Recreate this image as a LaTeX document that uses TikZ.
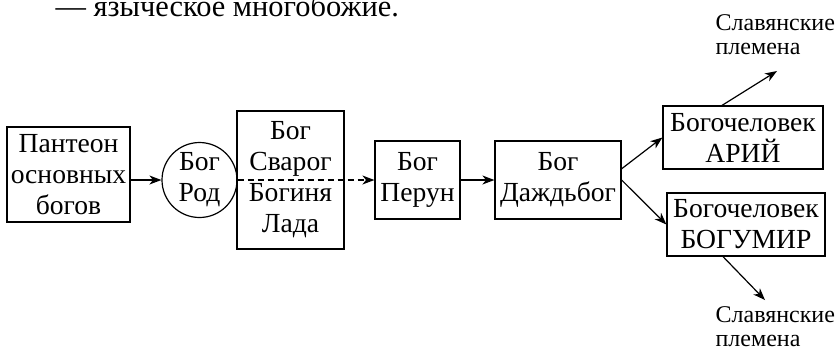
\documentclass[tikz,border=0pt]{standalone}
\usepackage{fontspec}
\setmainfont{Liberation Serif}
\usetikzlibrary{arrows.meta}

\begin{document}
\begin{tikzpicture}[x=0.5pt, y=-0.5pt, line width=0.6pt,
  box/.style={draw, rectangle, align=center, inner sep=0pt, font=\fontsize{13.8}{15.5}\selectfont},
  tribe/.style={align=left, inner sep=0pt, font=\fontsize{12}{12}\selectfont},
  arr/.style={-{Stealth[length=6pt,width=4.5pt,inset=1.8pt]}}]
\useasboundingbox (0,0) rectangle (835,350);

\node[anchor=base west, inner sep=0pt, font=\fontsize{15.2}{17}\selectfont] (intro) at (55,16) {— языческое многобожие.};

\node[box, minimum width=61.5pt, minimum height=47.5pt] (pantheon) at (68.5,174.5) {Пантеон\\основных\\богов};
\node[box, circle, minimum size=37.5pt] (rod) at (199.5,180) {Бог\\Род};
\node[box, minimum width=53.5pt, minimum height=69pt] (svarog) at (290.5,180) {Бог\\Сварог\\Богиня\\Лада};
\node[box, minimum width=42.5pt, minimum height=39pt] (perun) at (417.5,180) {Бог\\Перун};
\node[box, minimum width=63pt, minimum height=39pt] (dazhd) at (558,180) {Бог\\Даждьбог};
\node[box, minimum width=80pt, minimum height=31.5pt] (ariy) at (743,137.5) {Богочеловек\\АРИЙ};
\node[box, minimum width=79pt, minimum height=31.5pt] (bogumir) at (746,224.5) {Богочеловек\\БОГУМИР};

\node[tribe, anchor=north west] (slavup) at (715,14) {Славянские\\племена};
\node[tribe, anchor=north west] (slavdown) at (715,306) {Славянские\\племена};
\coordinate (upend) at (777,71);
\coordinate (downend) at (765,300);

\draw[arr] (pantheon.east |- rod.west) -- (rod.west);
\draw[arr, dash pattern=on 3pt off 2pt] (rod.east) -- (perun.west |- rod.east);
\draw[arr] (perun.east) -- (dazhd.west);
\draw[arr] (dazhd.10) -- (ariy.west);
\draw[arr] (dazhd.east) -- (bogumir.west);
\draw[arr] ([xshift=-10.5pt]ariy.north) -- (upend);
\draw[arr] ([xshift=-11.5pt]bogumir.south) -- (downend);
\end{tikzpicture}
\end{document}
